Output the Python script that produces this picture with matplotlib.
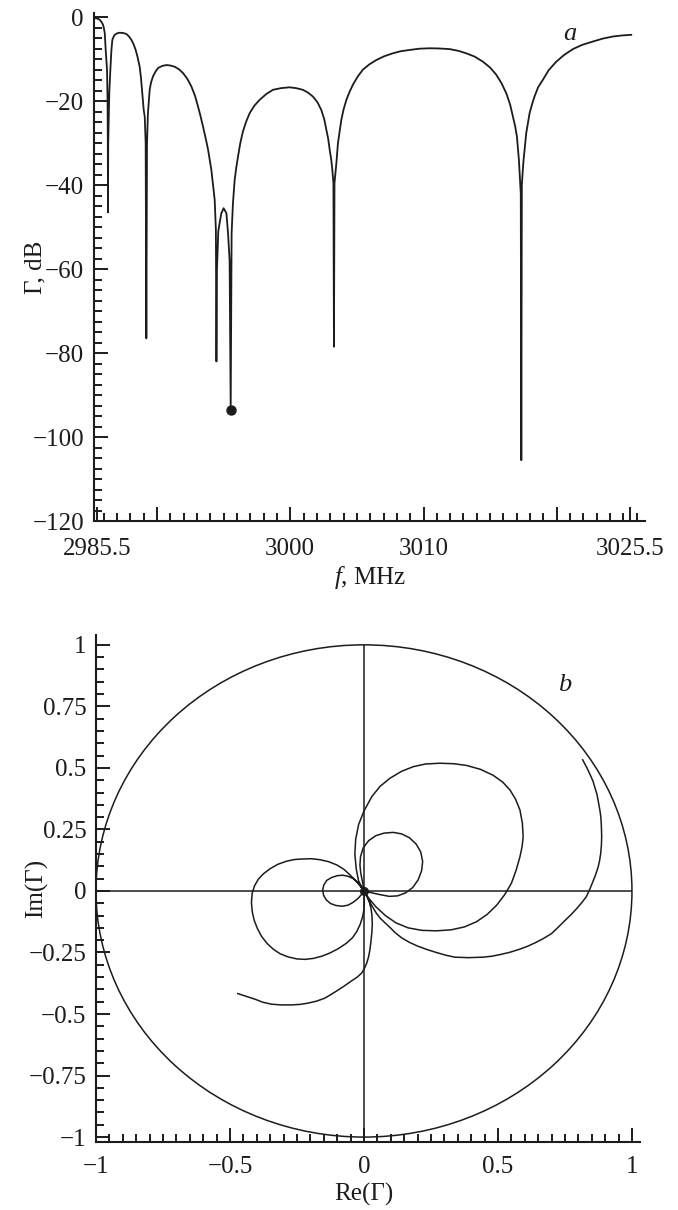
import matplotlib
matplotlib.use("Agg")
import matplotlib.pyplot as plt
from matplotlib.patches import Circle
from matplotlib.ticker import FixedLocator, FixedFormatter, MultipleLocator, FuncFormatter

plt.rcParams['font.family'] = ['Liberation Serif', 'DejaVu Serif']
plt.rcParams['mathtext.fontset'] = 'custom'
plt.rcParams['mathtext.rm'] = 'Liberation Serif'
plt.rcParams['mathtext.it'] = 'Liberation Serif:italic'
plt.rcParams['axes.unicode_minus'] = True

# ---------------- data: panel a (|Gamma| in dB vs frequency) ----------------
freq_mhz = [2985.33, 2985.50, 2985.70, 2985.85, 2985.95, 2986.02, 2986.08, 2986.15,
            2986.25, 2986.29, 2986.31, 2986.32, 2986.34, 2986.42, 2986.50, 2986.58,
            2986.65, 2986.75, 2986.83, 2987.00, 2987.20, 2987.45, 2987.70, 2987.90,
            2988.08, 2988.25, 2988.40, 2988.55, 2988.70, 2988.80, 2988.90, 2989.00,
            2989.08, 2989.15, 2989.20, 2989.25, 2989.32, 2989.45, 2989.55, 2989.70,
            2989.90, 2990.08, 2990.40, 2990.71, 2991.00, 2991.33, 2991.65, 2991.95,
            2992.28, 2992.58, 2992.85, 2993.08, 2993.27, 2993.45, 2993.65, 2993.83,
            2993.95, 2994.08, 2994.20, 2994.33, 2994.42, 2994.46, 2994.50, 2994.60,
            2994.70, 2994.83, 2995.00, 2995.21, 2995.33, 2995.45, 2995.53, 2995.60,
            2995.70, 2995.83, 2995.95, 2996.08, 2996.25, 2996.45, 2996.70, 2996.95,
            2997.30, 2997.70, 2998.20, 2998.70, 2999.30, 2999.95, 3000.45, 3000.95,
            3001.35, 3001.70, 3002.05, 3002.33, 3002.55, 3002.71, 3002.85, 3002.96,
            3003.08, 3003.16, 3003.24, 3003.28, 3003.32, 3003.46, 3003.58, 3003.83,
            3004.00, 3004.21, 3004.45, 3004.70, 3005.05, 3005.45, 3005.95, 3006.46,
            3007.05, 3007.70, 3008.30, 3008.96, 3009.70, 3010.46, 3011.20, 3011.96,
            3012.60, 3013.21, 3013.85, 3014.46, 3015.00, 3015.46, 3015.85, 3016.21,
            3016.50, 3016.71, 3016.88, 3017.01, 3017.16, 3017.30, 3017.34, 3017.38,
            3017.45, 3017.51, 3017.71, 3017.85, 3017.96, 3018.15, 3018.33, 3018.60,
            3018.96, 3019.40, 3019.96, 3020.55, 3021.21, 3021.90, 3022.71, 3023.45,
            3024.21, 3024.90, 3025.59]
gamma_db = [-0.2, -0.3, -0.6, -1.2, -1.8, -2.7, -3.8, -7.8,
            -12.5, -20.0, -30.0, -46.5, -30.0, -18.0, -12.5, -7.8,
            -5.4, -4.6, -4.2, -3.85, -3.7, -3.75, -4.0, -4.6,
            -5.4, -6.5, -7.8, -9.6, -11.8, -14.5, -18.1, -22.0,
            -23.7, -30.0, -76.5, -30.0, -22.9, -17.3, -15.6, -14.1,
            -12.9, -12.1, -11.6, -11.4, -11.5, -11.8, -12.4, -13.3,
            -14.7, -16.5, -18.7, -21.3, -23.6, -26.0, -28.8, -31.5,
            -33.8, -36.4, -39.8, -43.5, -50.7, -82.0, -60.0, -51.0,
            -49.0, -46.7, -45.5, -46.7, -51.4, -58.0, -93.5, -51.4,
            -44.3, -38.7, -35.8, -33.2, -30.0, -27.2, -24.8, -22.9,
            -21.1, -19.7, -18.3, -17.3, -16.9, -16.7, -16.9, -17.3,
            -18.0, -18.9, -20.3, -22.1, -24.3, -26.8, -29.0, -31.6,
            -34.0, -36.4, -39.5, -78.5, -39.5, -34.8, -30.0, -24.5,
            -22.0, -19.7, -17.8, -16.1, -14.2, -12.5, -11.2, -10.2,
            -9.3, -8.6, -8.1, -7.8, -7.5, -7.4, -7.45, -7.6,
            -8.0, -8.6, -9.4, -10.6, -12.0, -13.7, -15.7, -18.1,
            -20.8, -23.7, -26.0, -28.4, -34.0, -42.0, -105.5, -40.0,
            -36.5, -34.0, -27.6, -25.0, -22.9, -20.7, -18.9, -16.7,
            -14.9, -12.6, -10.6, -9.0, -7.6, -6.6, -5.8, -5.1,
            -4.6, -4.35, -4.2]
marked_freq = 2995.53
marked_db = -93.5

f_major_ticks = [2985.5, 2990, 3000, 3010, 3020, 3025.5]
f_major_labels = ['2985.5', '', '3000', '3010', '', '3025.5']
db_ticks = [-120, -100, -80, -60, -40, -20, 0]

# ---------------- data: panel b (Gamma on the complex plane) ----------------
# band start -> first match point
re_lobe0 = [0.816, 0.832, 0.845, 0.855, 0.862, 0.870, 0.875, 0.880, 0.884, 0.886,
            0.887, 0.886, 0.883, 0.879, 0.874, 0.865, 0.855, 0.843, 0.830, 0.813,
            0.795, 0.773, 0.750, 0.725, 0.700, 0.670, 0.640, 0.610, 0.580, 0.545,
            0.510, 0.478, 0.445, 0.390, 0.339, 0.305, 0.270, 0.235, 0.200, 0.168,
            0.140, 0.116, 0.096, 0.077, 0.060, 0.046, 0.035, 0.024, 0.015, 0.007, 0.0]
im_lobe0 = [0.533, 0.500, 0.470, 0.445, 0.420, 0.390, 0.360, 0.330, 0.300, 0.260,
            0.220, 0.185, 0.150, 0.122, 0.098, 0.068, 0.040, 0.008, -0.023, -0.047,
            -0.070, -0.096, -0.120, -0.147, -0.173, -0.193, -0.210, -0.225, -0.237, -0.249,
            -0.258, -0.265, -0.269, -0.271, -0.269, -0.261, -0.250, -0.238, -0.224, -0.208,
            -0.190, -0.169, -0.147, -0.128, -0.110, -0.090, -0.070, -0.050, -0.030, -0.014, 0.0]
# large right loop
re_lobe1 = [-0.020, -0.029, -0.034, -0.031, -0.020, 0.000, 0.029, 0.060, 0.097, 0.140,
            0.184, 0.230, 0.284, 0.335, 0.383, 0.435, 0.482, 0.518, 0.545, 0.566,
            0.582, 0.591, 0.594, 0.590, 0.582, 0.568, 0.550, 0.525, 0.495, 0.460,
            0.420, 0.375, 0.325, 0.270, 0.215, 0.165, 0.120, 0.080, 0.045, 0.018, 0.0]
im_lobe1 = [0.040, 0.090, 0.150, 0.210, 0.270, 0.325, 0.383, 0.425, 0.458, 0.486,
            0.505, 0.516, 0.519, 0.517, 0.510, 0.494, 0.470, 0.442, 0.410, 0.372,
            0.329, 0.276, 0.220, 0.180, 0.139, 0.085, 0.031, -0.015, -0.058, -0.095,
            -0.125, -0.146, -0.158, -0.162, -0.160, -0.150, -0.130, -0.100, -0.065, -0.030, 0.0]
# small right loop
re_lobe2 = [-0.005, -0.012, -0.015, -0.013, -0.003, 0.018, 0.045, 0.075, 0.109, 0.140,
            0.170, 0.195, 0.212, 0.219, 0.215, 0.202, 0.182, 0.155, 0.125, 0.095,
            0.065, 0.035, 0.012, 0.0]
im_lobe2 = [0.035, 0.072, 0.105, 0.139, 0.175, 0.205, 0.225, 0.235, 0.238, 0.232,
            0.216, 0.190, 0.158, 0.119, 0.082, 0.045, 0.014, -0.008, -0.020, -0.022,
            -0.016, -0.009, -0.003, 0.0]
# small left loop
re_lobe3 = [-0.020, -0.040, -0.060, -0.080, -0.100, -0.120, -0.139, -0.150, -0.154, -0.151,
            -0.141, -0.125, -0.105, -0.082, -0.060, -0.040, -0.022, -0.008, 0.0]
im_lobe3 = [0.032, 0.050, 0.060, 0.064, 0.062, 0.055, 0.043, 0.024, 0.004, -0.017,
            -0.036, -0.051, -0.059, -0.062, -0.058, -0.046, -0.030, -0.013, 0.0]
# large left loop
re_lobe4 = [-0.025, -0.052, -0.075, -0.102, -0.132, -0.164, -0.196, -0.226, -0.258, -0.289,
            -0.322, -0.351, -0.375, -0.394, -0.408, -0.417, -0.420, -0.417, -0.410, -0.398,
            -0.382, -0.361, -0.338, -0.313, -0.283, -0.251, -0.220, -0.189, -0.157, -0.127,
            -0.095, -0.065, -0.043, -0.027, -0.014, -0.005, 0.000, 0.001, 0.001, 0.0]
im_lobe4 = [0.035, 0.065, 0.088, 0.106, 0.119, 0.127, 0.131, 0.130, 0.128, 0.121,
            0.108, 0.090, 0.070, 0.048, 0.022, -0.008, -0.045, -0.084, -0.118, -0.152,
            -0.185, -0.214, -0.237, -0.255, -0.268, -0.276, -0.278, -0.274, -0.265, -0.252,
            -0.234, -0.212, -0.190, -0.165, -0.135, -0.104, -0.075, -0.045, -0.020, 0.0]
# last match point -> band end
re_lobe5 = [0.010, 0.020, 0.027, 0.030, 0.031, 0.029, 0.026, 0.022, 0.017, 0.010,
            0.001, -0.009, -0.025, -0.046, -0.072, -0.100, -0.125, -0.147, -0.178, -0.210,
            -0.240, -0.270, -0.310, -0.345, -0.378, -0.406, -0.440, -0.471]
im_lobe5 = [-0.018, -0.045, -0.075, -0.104, -0.140, -0.172, -0.205, -0.240, -0.268, -0.294,
            -0.316, -0.334, -0.350, -0.365, -0.385, -0.405, -0.422, -0.436, -0.448, -0.456,
            -0.461, -0.463, -0.463, -0.460, -0.452, -0.440, -0.428, -0.417]

re_gamma = re_lobe0 + re_lobe1 + re_lobe2 + re_lobe3 + re_lobe4 + re_lobe5
im_gamma = im_lobe0 + im_lobe1 + im_lobe2 + im_lobe3 + im_lobe4 + im_lobe5

re_ticks = [-1, -0.5, 0, 0.5, 1]
im_ticks = [-1, -0.75, -0.5, -0.25, 0, 0.25, 0.5, 0.75, 1]
unit_radius = 1.0

# ---------------- drawing ----------------
W, H = 678, 1210
fig = plt.figure(figsize=(W / 100, H / 100), dpi=100)
ink = '#1c1c1c'
fs = 18


def fmt(v, pos=None):
    s = '%g' % v
    return s.replace('-', '\u2212')


def style(ax, xpad):
    for side in ('top', 'right'):
        ax.spines[side].set_visible(False)
    for side in ('left', 'bottom'):
        ax.spines[side].set_linewidth(1.5)
        ax.spines[side].set_color(ink)
    ax.tick_params(which='both', direction='in', color=ink, width=1.4, labelsize=fs,
                   labelcolor=ink)
    ax.tick_params(which='major', length=10)
    ax.tick_params(which='minor', length=6)
    ax.tick_params(axis='y', pad=7)
    ax.tick_params(axis='x', pad=xpad)


# panel a
ax1 = fig.add_axes([93.7 / W, 1 - 521 / H, 551 / W, 508 / H])
ax1.plot(freq_mhz, gamma_db, color=ink, lw=1.3)
ax1.plot([marked_freq], [marked_db], 'o', color=ink, ms=6.5)
ax1.set_xlim(2985.25, 3026.6)
ax1.set_ylim(-120, 1.0)
style(ax1, 12)
ax1.xaxis.set_major_locator(FixedLocator(f_major_ticks))
ax1.xaxis.set_major_formatter(FixedFormatter(f_major_labels))
ax1.xaxis.set_minor_locator(MultipleLocator(1))
ax1.yaxis.set_major_locator(FixedLocator(db_ticks))
ax1.yaxis.set_major_formatter(FuncFormatter(fmt))
ax1.yaxis.set_minor_locator(MultipleLocator(2.5))
ax1.set_ylabel('\u0393, dB', fontsize=fs, color=ink)
ax1.yaxis.set_label_coords(-0.085, 0.5)
ax1.set_xlabel('$f$, MHz', fontsize=fs, color=ink)
ax1.xaxis.set_label_coords(0.501, -0.085)
ax1.text(0.864, 0.959, 'a', transform=ax1.transAxes, fontsize=fs + 1, style='italic',
         ha='center', va='center', color=ink)

# panel b
ax2 = fig.add_axes([96 / W, 1 - 1142 / H, 544 / W, 507 / H])
ax2.add_patch(Circle((0, 0), unit_radius, fill=False, ec=ink, lw=1.1))
ax2.hlines(0, -unit_radius, unit_radius, color=ink, lw=1.1)
ax2.vlines(0, -unit_radius, unit_radius, color=ink, lw=1.1)
ax2.plot(re_gamma, im_gamma, color=ink, lw=1.1)
ax2.plot([0], [0], 'o', color=ink, ms=5.5)
ax2.set_xlim(-1.0, 1.03)
ax2.set_ylim(-1.02, 1.04)
style(ax2, 10)
ax2.xaxis.set_major_locator(FixedLocator(re_ticks))
ax2.xaxis.set_major_formatter(FuncFormatter(fmt))
ax2.xaxis.set_minor_locator(MultipleLocator(0.05))
ax2.yaxis.set_major_locator(FixedLocator(im_ticks))
ax2.yaxis.set_major_formatter(FuncFormatter(fmt))
ax2.yaxis.set_minor_locator(MultipleLocator(0.05))
ax2.set_ylabel('Im(\u0393)', fontsize=fs, color=ink)
ax2.yaxis.set_label_coords(-0.088, 0.5)
ax2.set_xlabel('Re(\u0393)', fontsize=fs, color=ink)
ax2.xaxis.set_label_coords(0.4926, -0.081)
ax2.text(0.862, 0.901, 'b', transform=ax2.transAxes, fontsize=fs + 1, style='italic',
         ha='center', va='center', color=ink)

fig.savefig('out.png', dpi=100, facecolor='white')
